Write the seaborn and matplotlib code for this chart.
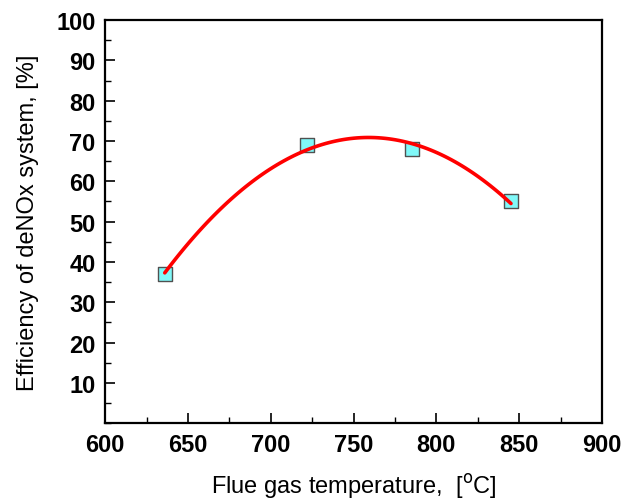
#!/usr/bin/env python3
import matplotlib
matplotlib.use("Agg")
import matplotlib.pyplot as plt
import pandas as pd
import seaborn as sns
from matplotlib.ticker import MultipleLocator

flue_temp_c = [636, 722, 785, 845]
denox_eff_pct = [37, 69, 68, 55]

x_ticks = [600, 650, 700, 750, 800, 850, 900]
y_ticks = [10, 20, 30, 40, 50, 60, 70, 80, 90, 100]

sns.set_style("white")
plt.rcParams["font.family"] = ["Liberation Sans", "DejaVu Sans"]
plt.rcParams["text.color"] = "black"
plt.rcParams["axes.labelcolor"] = "black"
plt.rcParams["xtick.color"] = "black"
plt.rcParams["ytick.color"] = "black"

df = pd.DataFrame({"temp": flue_temp_c, "eff": denox_eff_pct})

fig, ax = plt.subplots(figsize=(6.22, 5.02), dpi=100)
fig.subplots_adjust(left=0.169, right=0.968, top=0.958, bottom=0.155)

sns.scatterplot(
    data=df, x="temp", y="eff", ax=ax, marker="s", s=110,
    color="#80f8f8", edgecolor="#505050", linewidth=1.0, zorder=2,
)
# quadratic fit drawn by seaborn
sns.regplot(
    data=df, x="temp", y="eff", ax=ax, order=2, ci=None, scatter=False,
    line_kws={"color": "red", "linewidth": 2.6, "zorder": 3},
)

ax.set_xlim(600, 900)
ax.set_ylim(0, 100)
ax.set_xticks(x_ticks)
ax.set_yticks(y_ticks)
ax.xaxis.set_minor_locator(MultipleLocator(25))
ax.yaxis.set_minor_locator(MultipleLocator(5))
ax.tick_params(which="major", direction="in", length=7, width=1.2,
               labelsize=17, pad=7)
ax.tick_params(which="minor", direction="in", length=4, width=1.0)
ax.tick_params(top=False, right=False, bottom=True, left=True, which="both")
for lab in ax.get_xticklabels() + ax.get_yticklabels():
    lab.set_fontweight("bold")

for sp in ax.spines.values():
    sp.set_color("black")
    sp.set_linewidth(1.6)

ax.set_xlabel("Flue gas temperature,  [$^{\\mathrm{o}}$C]", fontsize=17, labelpad=11)
ax.set_ylabel("Efficiency of deNOx system, [%]", fontsize=17, labelpad=12)

fig.savefig("out.png", dpi=100)
